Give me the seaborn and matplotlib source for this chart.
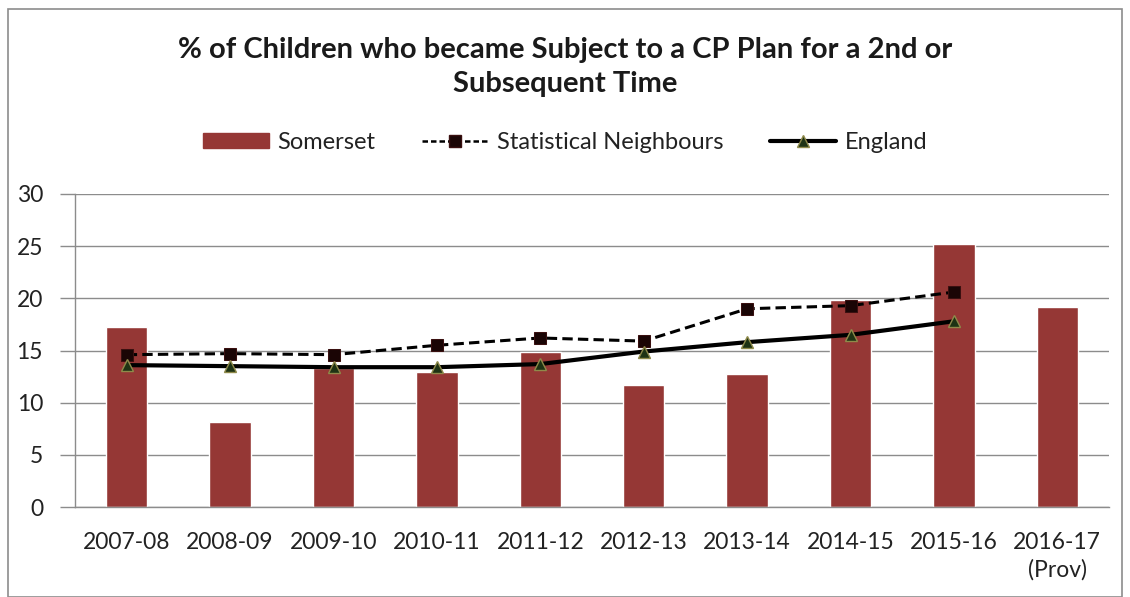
import numpy as np
import pandas as pd
import matplotlib
matplotlib.use("Agg")
import matplotlib.pyplot as plt
import seaborn as sns
from matplotlib.patches import Patch, Rectangle
from matplotlib.lines import Line2D

categories = ["2007-08", "2008-09", "2009-10", "2010-11", "2011-12",
              "2012-13", "2013-14", "2014-15", "2015-16", "2016-17\n(Prov)"]
somerset = [17.3, 8.1, 13.3, 12.9, 14.9, 11.7, 12.7, 19.8, 25.2, 19.2]
stat_neighbours = [14.6, 14.7, 14.6, 15.5, 16.2, 15.9, 19.0, 19.3, 20.6, np.nan]
england = [13.6, 13.5, 13.4, 13.4, 13.7, 14.9, 15.8, 16.5, 17.8, np.nan]

title = "% of Children who became Subject to a CP Plan for a 2nd or\nSubsequent Time"
yticks = [0, 5, 10, 15, 20, 25, 30]

sns.set_style("white")
plt.rcParams['font.family'] = ['Lato', 'DejaVu Sans']

fig = plt.figure(figsize=(11.30, 5.97), dpi=100)
ax = fig.add_axes([75/1130, 1-507/597, (1109-75)/1130, (507-194)/597])

bar_color = "#953735"
df = pd.DataFrame({"cat": categories, "Somerset": somerset,
                   "SN": stat_neighbours, "England": england})

sns.barplot(data=df, x="cat", y="Somerset", color=bar_color, width=0.4,
            saturation=1, ax=ax, zorder=2)
sns.lineplot(data=df.dropna(), x="cat", y="SN", sort=False, ax=ax,
             color="black", linewidth=2.2, linestyle=(0, (3.4, 1.7)),
             marker="s", markersize=9, markerfacecolor="#1a0505",
             markeredgecolor="#3a1010", zorder=4)
sns.lineplot(data=df.dropna(), x="cat", y="England", sort=False, ax=ax,
             color="black", linewidth=3.0, linestyle="-",
             marker="^", markersize=9, markerfacecolor="#1e3314",
             markeredgecolor="#8f8a4a", markeredgewidth=1.0, zorder=5)

ax.set_xlim(-0.5, len(categories) - 0.5)
ax.set_ylim(0, 30)
ax.set_yticks(yticks)
ax.yaxis.grid(True, color="#8c8c8c", linewidth=1.0, zorder=0)
ax.set_axisbelow(True)
ax.set_xlabel("")
ax.set_ylabel("")
for s in ["top", "right"]:
    ax.spines[s].set_visible(False)
for s in ["left", "bottom"]:
    ax.spines[s].set_color("#8c8c8c")
    ax.spines[s].set_linewidth(1.0)

ax.set_xticks(np.arange(len(categories)))
ax.set_xticklabels(categories, fontsize=16.5, color="#222222", linespacing=1.35)
ax.set_xticks(np.arange(-0.5, len(categories)), minor=True)
ax.tick_params(axis="x", which="major", length=0, pad=18)
ax.tick_params(axis="x", which="minor", length=7, color="#8c8c8c", width=1)
ax.tick_params(axis="y", which="major", length=11, color="#8c8c8c", width=1,
               labelsize=16.5, labelcolor="#222222", pad=12, left=True)

fig.text(0.5, 1-67/597, title, ha="center", va="center", fontsize=21,
         fontweight="bold", color="#1a1a1a", linespacing=1.4)

handles = [
    Patch(facecolor=bar_color, edgecolor=bar_color, label="Somerset"),
    Line2D([], [], color="black", linewidth=1.8, linestyle=(0, (2.2, 1.2)),
           marker="s", markersize=9, markerfacecolor="#1a0505",
           markeredgecolor="#3a1010", label="Statistical Neighbours"),
    Line2D([], [], color="black", linewidth=3.0, marker="^", markersize=8,
           markerfacecolor="#1e3314", markeredgecolor="#8f8a4a",
           label="England"),
]
leg = fig.legend(handles=handles, loc="center", bbox_to_anchor=(0.5, 1-142/597),
                 ncol=3, frameon=False, fontsize=17, handlelength=2.8,
                 handleheight=0.6, columnspacing=2.0, handletextpad=0.35)
for t in leg.get_texts():
    t.set_color("#222222")

fig.patches.append(Rectangle((8/1130, 0.0), 1-16/1130, 1-9/597,
                             transform=fig.transFigure, fill=False,
                             edgecolor="#8c8c8c", linewidth=1.2))

fig.savefig("out.png", dpi=100, facecolor="white")
